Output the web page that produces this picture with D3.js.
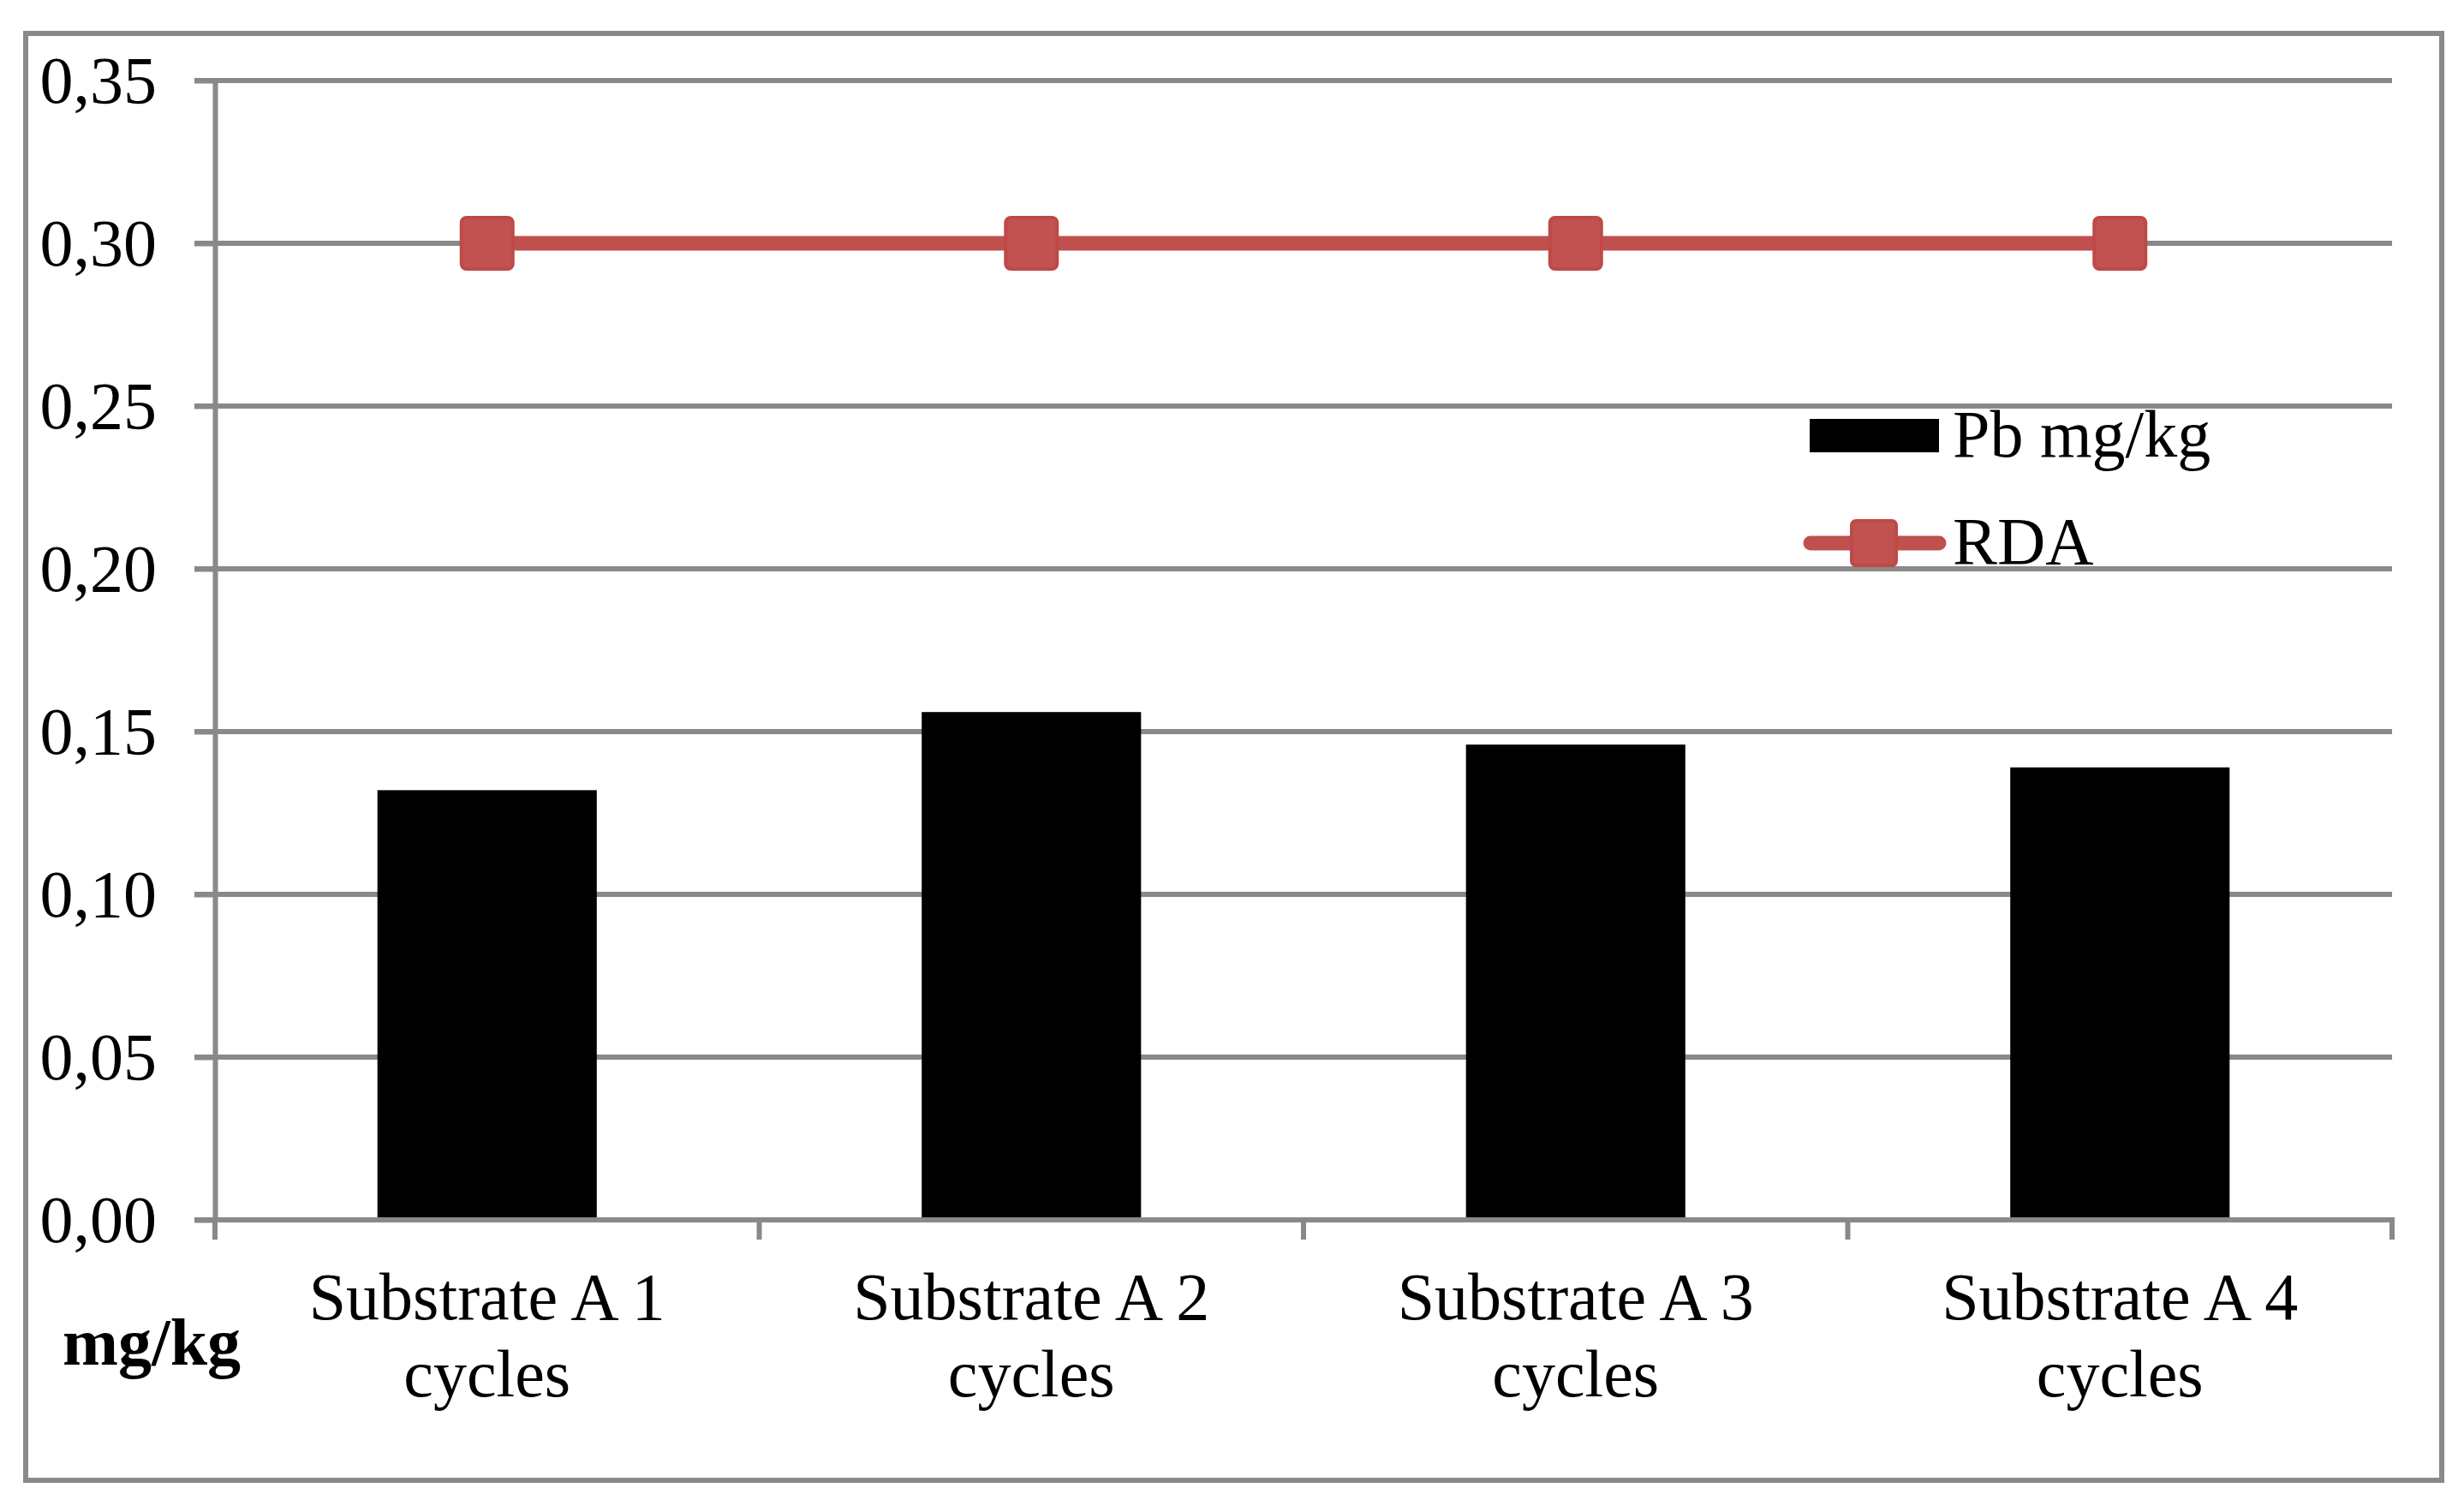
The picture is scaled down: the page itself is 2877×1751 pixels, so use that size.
<!DOCTYPE html>
<html>
<head>
<meta charset="utf-8">
<script src="https://cdn.jsdelivr.net/npm/d3@7"></script>
<style>
  html, body { margin: 0; padding: 0; background: #fff; }
  svg { display: block; }
  text { font-family: "Liberation Serif", "Times New Roman", serif; fill: #000; }
</style>
</head>
<body>
<div id="chart"></div>
<script>
// data
const categories = ["Substrate A 1 cycles", "Substrate A 2 cycles", "Substrate A 3 cycles", "Substrate A 4 cycles"];
const pbValues = [0.132, 0.156, 0.146, 0.139];
const rdaValues = [0.30, 0.30, 0.30, 0.30];
const yTicks = [0, 0.05, 0.10, 0.15, 0.20, 0.25, 0.30, 0.35];
const seriesNames = ["Pb mg/kg", "RDA"];

const width = 2877, height = 1751;
const margin = { left: 251, right: 84, top: 94, bottom: 327 };
const gridColor = "#898989";
const rdaColor = "#c0504d";
const fontSize = '78px';

const svg = d3.select('#chart')
    .append('svg')
    .attr('width', width)
    .attr('height', height);

// outer frame
svg.append('rect')
    .attr('x', 30).attr('y', 39)
    .attr('width', 2821).attr('height', 1689)
    .attr('fill', 'none')
    .attr('stroke', gridColor)
    .attr('stroke-width', 6);

const x = d3.scaleBand()
    .domain(categories)
    .range([margin.left, width - margin.right]);

const y = d3.scaleLinear()
    .domain([0, 0.35])
    .range([height - margin.bottom, margin.top]);

const fmt = d => d3.format('.2f')(d).replace('.', ',');

// gridlines
svg.append('g')
    .selectAll('line')
    .data(yTicks)
    .join('line')
    .attr('x1', margin.left - 24)
    .attr('x2', width - margin.right)
    .attr('y1', d => y(d))
    .attr('y2', d => y(d))
    .attr('stroke', gridColor)
    .attr('stroke-width', 6);

// y axis
const yAxis = svg.append('g')
    .attr('transform', `translate(${margin.left},0)`)
    .call(d3.axisLeft(y).tickValues(yTicks).tickFormat(fmt).tickSize(24).tickSizeOuter(0).tickPadding(44));

yAxis.select('.domain').attr('stroke', gridColor).attr('stroke-width', 6);
yAxis.selectAll('.tick line').attr('stroke', gridColor).attr('stroke-width', 6);
yAxis.selectAll('.tick text')
    .style('font-family', '"Liberation Serif", serif')
    .style('font-size', fontSize)
    .attr('fill', '#000')
    .attr('dy', '0.33em');

// x axis boundary ticks
const bounds = categories.map(c => x(c)).concat([x.range()[1]]);
svg.append('g')
    .selectAll('line')
    .data(bounds)
    .join('line')
    .attr('x1', d => d)
    .attr('x2', d => d)
    .attr('y1', y(0) - 3)
    .attr('y2', y(0) + 23)
    .attr('stroke', gridColor)
    .attr('stroke-width', 6);

// bars
const barW = x.bandwidth() * 0.403;
svg.append('g')
    .selectAll('rect')
    .data(pbValues)
    .join('rect')
    .attr('x', (d, i) => x(categories[i]) + (x.bandwidth() - barW) / 2)
    .attr('y', d => y(d))
    .attr('width', barW)
    .attr('height', d => y(0) - y(d))
    .attr('fill', '#000');

// redraw axis baseline over bars
svg.append('line')
    .attr('x1', margin.left - 24)
    .attr('x2', width - margin.right)
    .attr('y1', y(0))
    .attr('y2', y(0))
    .attr('stroke', gridColor)
    .attr('stroke-width', 6);

// RDA line
const cx = (d, i) => x(categories[i]) + x.bandwidth() / 2;
const line = d3.line()
    .x(cx)
    .y(d => y(d));

svg.append('path')
    .datum(rdaValues)
    .attr('d', line)
    .attr('fill', 'none')
    .attr('stroke', rdaColor)
    .attr('stroke-width', 17)
    .attr('stroke-linecap', 'round');

const mk = 60;
svg.append('g')
    .selectAll('rect')
    .data(rdaValues)
    .join('rect')
    .attr('x', (d, i) => cx(d, i) - mk / 2)
    .attr('y', d => y(d) - mk / 2)
    .attr('width', mk)
    .attr('height', mk)
    .attr('rx', 6)
    .attr('fill', '#c0524f')
    .attr('stroke', '#bd4a47')
    .attr('stroke-width', 4);

// category labels
const labels = svg.append('g')
    .selectAll('text')
    .data(categories)
    .join('text')
    .attr('text-anchor', 'middle')
    .style('font-size', fontSize);

labels.append('tspan')
    .attr('x', d => x(d) + x.bandwidth() / 2)
    .attr('y', 1540)
    .text(d => d.replace(' cycles', ''));

labels.append('tspan')
    .attr('x', d => x(d) + x.bandwidth() / 2)
    .attr('y', 1630)
    .text('cycles');

// unit label
svg.append('text')
    .attr('x', 73)
    .attr('y', 1593)
    .style('font-size', fontSize)
    .style('font-weight', 'bold')
    .text('mg/kg');

// legend
const legend = svg.append('g');
legend.append('rect')
    .attr('x', 2113).attr('y', 489)
    .attr('width', 151).attr('height', 39)
    .attr('fill', '#000');
legend.append('text')
    .attr('x', 2280).attr('y', 533)
    .style('font-size', fontSize)
    .text(seriesNames[0]);

legend.append('line')
    .attr('x1', 2114).attr('x2', 2264)
    .attr('y1', 634).attr('y2', 634)
    .attr('stroke', rdaColor)
    .attr('stroke-width', 17)
    .attr('stroke-linecap', 'round');
legend.append('rect')
    .attr('x', 2162).attr('y', 608)
    .attr('width', 52).attr('height', 52)
    .attr('rx', 5)
    .attr('fill', '#c0524f')
    .attr('stroke', '#bd4a47')
    .attr('stroke-width', 4);
legend.append('text')
    .attr('x', 2280).attr('y', 658)
    .style('font-size', fontSize)
    .text(seriesNames[1]);
</script>
</body>
</html>
